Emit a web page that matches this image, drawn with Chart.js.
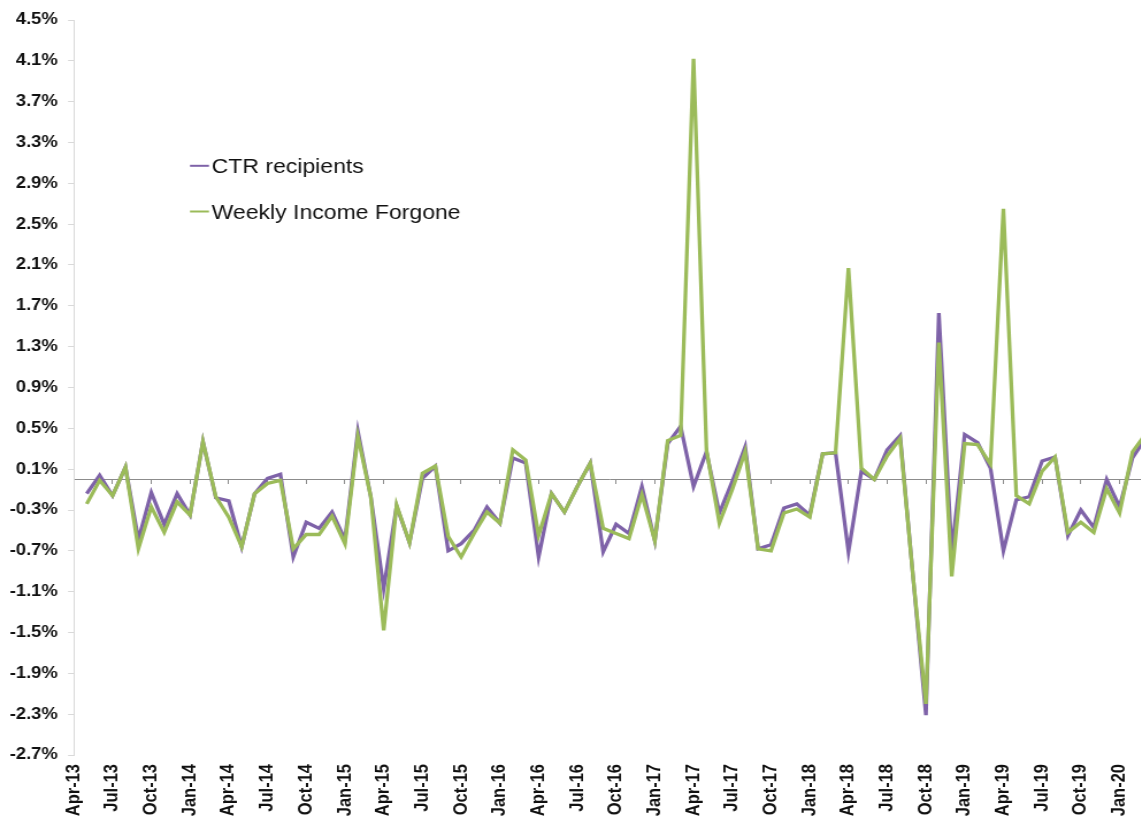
<!DOCTYPE html>
<html>
<head>
<meta charset="utf-8">
<script src="https://cdn.jsdelivr.net/npm/chart.js@4.4.1/dist/chart.umd.min.js"></script>
<style>
  html, body { margin: 0; padding: 0; background: #ffffff; overflow: hidden; width: 1141px; height: 821px; }
  #wrap { position: absolute; left: 0; top: 0; width: 1000px; height: 821px; transform: scaleX(1.15); transform-origin: 0 0; }
  canvas { display: block; }
</style>
</head>
<body>
<div id="wrap"><canvas id="c" width="1000" height="821"></canvas></div>
<script>
// ---- Data ----
const months = [
  "Apr-13","May-13","Jun-13","Jul-13","Aug-13","Sep-13","Oct-13","Nov-13","Dec-13",
  "Jan-14","Feb-14","Mar-14","Apr-14","May-14","Jun-14","Jul-14","Aug-14","Sep-14","Oct-14","Nov-14","Dec-14",
  "Jan-15","Feb-15","Mar-15","Apr-15","May-15","Jun-15","Jul-15","Aug-15","Sep-15","Oct-15","Nov-15","Dec-15",
  "Jan-16","Feb-16","Mar-16","Apr-16","May-16","Jun-16","Jul-16","Aug-16","Sep-16","Oct-16","Nov-16","Dec-16",
  "Jan-17","Feb-17","Mar-17","Apr-17","May-17","Jun-17","Jul-17","Aug-17","Sep-17","Oct-17","Nov-17","Dec-17",
  "Jan-18","Feb-18","Mar-18","Apr-18","May-18","Jun-18","Jul-18","Aug-18","Sep-18","Oct-18","Nov-18","Dec-18",
  "Jan-19","Feb-19","Mar-19","Apr-19","May-19","Jun-19","Jul-19","Aug-19","Sep-19","Oct-19","Nov-19","Dec-19",
  "Jan-20","Feb-20","Mar-20"
];

const ctrRecipients = [
  null,
  -0.14, 0.04, -0.16, 0.12, -0.59, -0.13, -0.44, -0.14,
  -0.35, 0.37, -0.18, -0.21, -0.66, -0.14, 0.01, 0.05, -0.76, -0.42, -0.48, -0.32,
  -0.59, 0.47, -0.17, -1.07, -0.26, -0.62, 0.01, 0.13, -0.70, -0.63, -0.50, -0.27,
  -0.43, 0.21, 0.16, -0.76, -0.14, -0.32, -0.07, 0.16, -0.71, -0.44, -0.53, -0.07,
  -0.60, 0.35, 0.52, -0.07, 0.27, -0.33, -0.02, 0.32, -0.68, -0.64, -0.28, -0.24,
  -0.35, 0.25, 0.26, -0.71, 0.08, 0.00, 0.29, 0.43, -0.95, -2.31, 1.63, -0.72,
  0.44, 0.36, 0.11, -0.70, -0.20, -0.17, 0.18, 0.22, -0.55, -0.30, -0.47, 0.00,
  -0.27, 0.21, 0.40
];

const weeklyIncomeForgone = [
  null,
  -0.24, -0.01, -0.16, 0.12, -0.68, -0.27, -0.52, -0.22,
  -0.35, 0.37, -0.17, -0.37, -0.66, -0.14, -0.04, -0.01, -0.68, -0.54, -0.54, -0.36,
  -0.63, 0.42, -0.17, -1.48, -0.25, -0.62, 0.06, 0.13, -0.56, -0.76, -0.53, -0.32,
  -0.43, 0.29, 0.19, -0.55, -0.14, -0.32, -0.07, 0.16, -0.48, -0.53, -0.58, -0.15,
  -0.60, 0.38, 0.43, 4.12, 0.29, -0.43, -0.10, 0.27, -0.68, -0.70, -0.33, -0.29,
  -0.37, 0.25, 0.26, 2.07, 0.11, 0.00, 0.23, 0.40, -0.95, -2.20, 1.34, -0.95,
  0.35, 0.34, 0.15, 2.65, -0.16, -0.24, 0.08, 0.22, -0.52, -0.42, -0.52, -0.09,
  -0.33, 0.27, 0.44
];

const seriesNames = ["CTR recipients", "Weekly Income Forgone"];
const seriesColors = ["#7e62a8", "#9bbb59"];

const yMin = -2.7, yMax = 4.5, yStep = 0.4;
const labelEvery = 3;

// ---- Chart ----
Chart.defaults.font.family = '"Liberation Sans", Arial, Helvetica, sans-serif';

const insideLegend = {
  id: 'insideLegend',
  afterDraw(chart) {
    const ctx = chart.ctx;
    const rows = [165.8, 211.5];
    ctx.save();
    chart.data.datasets.forEach((ds, i) => {
      const y = rows[i];
      ctx.strokeStyle = ds.borderColor;
      ctx.lineWidth = 2;
      ctx.beginPath();
      ctx.moveTo(165.2, y);
      ctx.lineTo(181.7, y);
      ctx.stroke();
      ctx.fillStyle = '#111111';
      ctx.font = '20px "Liberation Sans", Arial, sans-serif';
      ctx.textAlign = 'left';
      ctx.textBaseline = 'alphabetic';
      ctx.fillText(ds.label, 184.1, y + 7.2);
    });
    ctx.restore();
  }
};

new Chart(document.getElementById('c'), {
  type: 'line',
  data: {
    labels: months,
    datasets: [
      { label: seriesNames[0], data: ctrRecipients, borderColor: seriesColors[0], backgroundColor: seriesColors[0],
        borderWidth: 3.3, pointRadius: 0, tension: 0, fill: false, order: 1 },
      { label: seriesNames[1], data: weeklyIncomeForgone, borderColor: seriesColors[1], backgroundColor: seriesColors[1],
        borderWidth: 3.3, pointRadius: 0, tension: 0, fill: false, order: 0 }
    ]
  },
  options: {
    responsive: false,
    animation: false,
    devicePixelRatio: 1,
    layout: { padding: { top: 20, left: 0, right: 4, bottom: 0 } },
    plugins: { legend: { display: false }, tooltip: { enabled: false } },
    scales: {
      x: {
        type: 'category',
        position: 'bottom',
        offset: false,
        grid: { display: false, drawTicks: false },
        border: { display: false },
        ticks: {
          autoSkip: false, maxRotation: 90, minRotation: 90, padding: 9,
          color: '#111111', font: { size: 16.5, weight: 'bold' },
          callback: (v, i) => (i % labelEvery === 0 ? months[i] : '')
        },
        afterFit: (s) => { s.height = 66; s.paddingLeft = 0; s.paddingRight = 0; }
      },
      x2: {
        type: 'category',
        position: { y: 0 },
        offset: false,
        ticks: { display: false },
        grid: {
          drawOnChartArea: false, drawTicks: true, tickLength: 4, offset: false,
          color: (c) => (c.index % labelEvery === 0 ? '#8c8c8c' : 'rgba(0,0,0,0)')
        },
        border: { display: true, color: '#8c8c8c', width: 1 }
      },
      y: {
        min: yMin, max: yMax,
        ticks: {
          stepSize: yStep, padding: 9, color: '#111111',
          font: { size: 16, weight: 'bold' },
          callback: (v) => v.toFixed(1) + '%'
        },
        grid: { drawOnChartArea: false, drawTicks: true, tickLength: 5, color: '#d9d9d9' },
        border: { display: true, color: '#d9d9d9', width: 1 },
        afterFit: (s) => { s.width = 64.2; }
      }
    }
  },
  plugins: [insideLegend]
});
</script>
</body>
</html>
